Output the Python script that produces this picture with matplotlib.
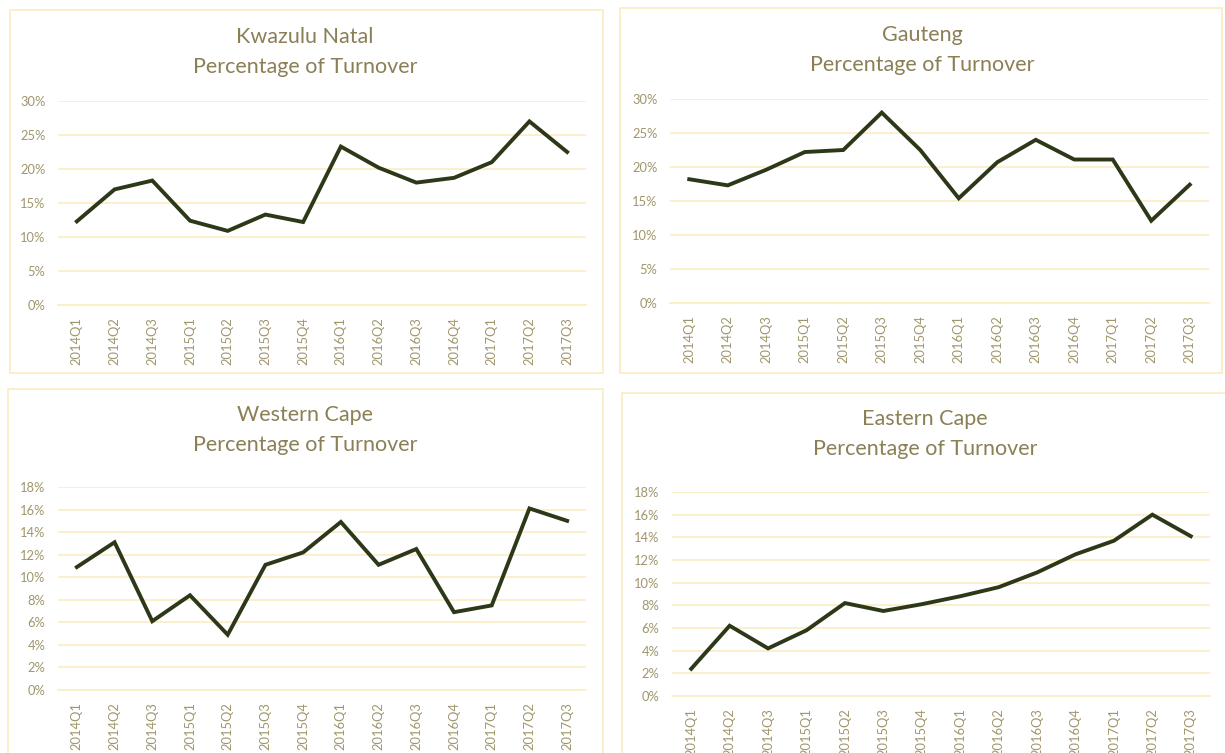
import matplotlib
matplotlib.use("Agg")
import matplotlib.pyplot as plt
from matplotlib.patches import Rectangle
from matplotlib.ticker import FuncFormatter

quarters = ["2014Q1", "2014Q2", "2014Q3", "2015Q1", "2015Q2", "2015Q3", "2015Q4",
            "2016Q1", "2016Q2", "2016Q3", "2016Q4", "2017Q1", "2017Q2", "2017Q3"]

kzn = [12.3, 17.0, 18.3, 12.4, 10.9, 13.3, 12.2, 23.3, 20.2, 18.0, 18.7, 21.0, 27.0, 22.5]
gauteng = [18.2, 17.3, 19.6, 22.2, 22.5, 28.0, 22.5, 15.4, 20.7, 24.0, 21.1, 21.1, 12.1, 17.4]
western_cape = [10.9, 13.1, 6.1, 8.4, 4.9, 11.1, 12.2, 14.9, 11.1, 12.5, 6.9, 7.5, 16.1, 15.0]
eastern_cape = [2.4, 6.2, 4.2, 5.8, 8.2, 7.5, 8.1, 8.8, 9.6, 10.9, 12.5, 13.7, 16.0, 14.1]

titles = ["Kwazulu Natal\nPercentage of Turnover", "Gauteng\nPercentage of Turnover",
          "Western Cape\nPercentage of Turnover", "Eastern Cape\nPercentage of Turnover"]
yticks_top = [0, 5, 10, 15, 20, 25, 30]
yticks_bottom = [0, 2, 4, 6, 8, 10, 12, 14, 16, 18]

W, H = 1225, 753
plt.rcParams['font.family'] = ['Lato', 'DejaVu Sans']

TITLE_C = "#8a7f55"
TICK_C = "#a0966c"
GRID_C = "#fbefc6"
BORDER_C = "#fbecc0"
LINE_C = "#2d3818"

fig = plt.figure(figsize=(W / 100, H / 100), dpi=100)
fig.patch.set_facecolor("white")

def fx(x):
    return x / W

def fy(y):
    return 1 - y / H

# panel borders (pixel boxes: x0, y0, x1, y1)
boxes = [(10, 10, 603, 373), (620, 8, 1222, 373), (8, 389, 603, 760), (622, 393, 1230, 760)]
for x0, y0, x1, y1 in boxes:
    fig.add_artist(Rectangle((fx(x0), fy(y1)), fx(x1 - x0), (y1 - y0) / H,
                             transform=fig.transFigure, fill=False,
                             edgecolor=BORDER_C, linewidth=1.2))

# axes areas (pixel: left, right, top, bottom)
areas = [(58, 586, 101, 305), (670, 1209, 99, 303), (58, 586, 487, 690), (672, 1210, 492, 696)]
title_pos = [(305, 52), (922, 50), (305, 430), (925, 434)]
series = [kzn, gauteng, western_cape, eastern_cape]
ticksets = [yticks_top, yticks_top, yticks_bottom, yticks_bottom]

for i in range(4):
    l, r, t, b = areas[i]
    ax = fig.add_axes([fx(l), fy(b), (r - l) / W, (b - t) / H])
    xs = list(range(len(quarters)))
    ax.plot(xs, series[i], color=LINE_C, linewidth=2.8, solid_joinstyle="miter", zorder=3)
    ax.set_xlim(-0.5, len(quarters) - 0.5)
    ax.set_ylim(ticksets[i][0], ticksets[i][-1])
    ax.set_yticks(ticksets[i])
    ax.yaxis.set_major_formatter(FuncFormatter(lambda v, p: f"{v:.0f}%"))
    ax.set_xticks(xs)
    ax.set_xticklabels(quarters, rotation=90)
    ax.grid(axis="y", color=GRID_C, linewidth=1.3, zorder=0)
    ax.set_axisbelow(True)
    for s in ["top", "right", "left"]:
        ax.spines[s].set_visible(False)
    ax.spines["bottom"].set_color(GRID_C)
    ax.spines["bottom"].set_linewidth(1.3)
    ax.tick_params(axis="both", length=0, colors=TICK_C, labelsize=9.3)
    ax.tick_params(axis="x", pad=9)
    ax.tick_params(axis="y", pad=9)
    ax.set_facecolor("none")
    tx, ty = title_pos[i]
    fig.text(fx(tx), fy(ty), titles[i], ha="center", va="center", color=TITLE_C,
             fontsize=15.5, linespacing=1.6)

fig.savefig("out.png", dpi=100)
